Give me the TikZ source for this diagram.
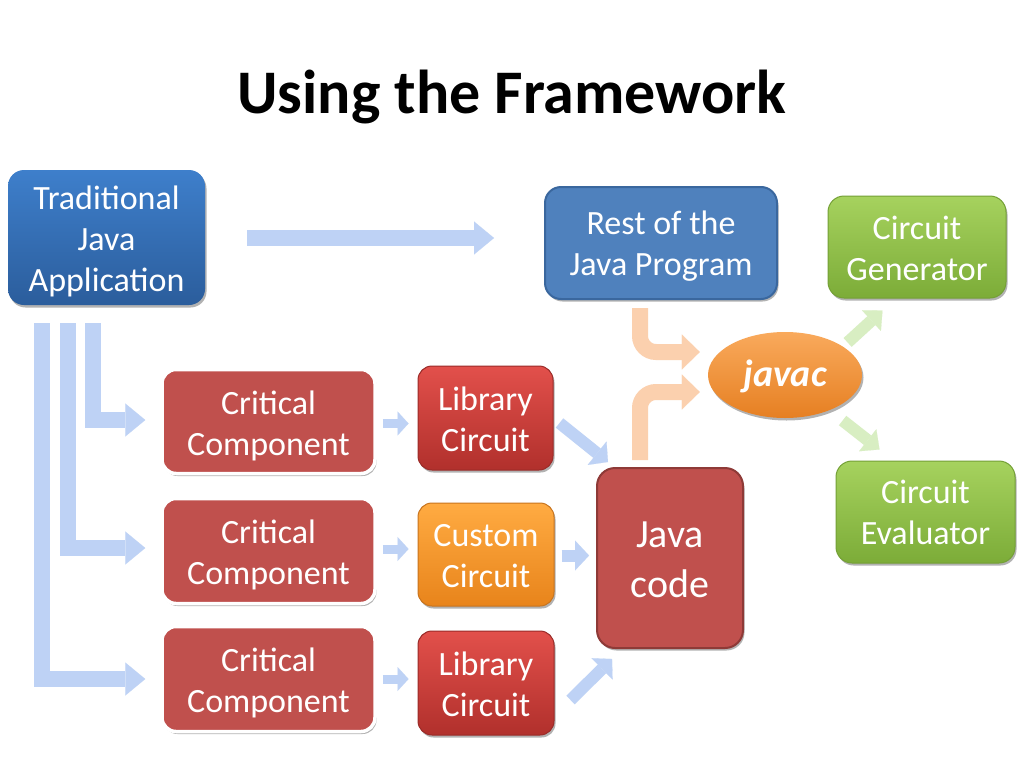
\documentclass[tikz,border=0pt]{standalone}
\usepackage{fontspec}
\setmainfont{Carlito}
\usetikzlibrary{arrows.meta,calc,shadows,shapes.geometric}
\definecolor{tradtop}{HTML}{3E7FCB}
\definecolor{tradbot}{HTML}{2B5D9C}
\definecolor{restfill}{HTML}{4F81BD}
\definecolor{restline}{HTML}{3A679E}
\definecolor{greentop}{HTML}{A6D25E}
\definecolor{greenbot}{HTML}{7CAC38}
\definecolor{greenline}{HTML}{74A036}
\definecolor{javactop}{HTML}{F9AA5C}
\definecolor{javacbot}{HTML}{E67F22}
\definecolor{critfill}{HTML}{C0504D}
\definecolor{libtop}{HTML}{E2504B}
\definecolor{libbot}{HTML}{B1302C}
\definecolor{libline}{HTML}{9A2B28}
\definecolor{custtop}{HTML}{FFAB42}
\definecolor{custbot}{HTML}{E8841B}
\definecolor{custline}{HTML}{C8741E}
\definecolor{codeline}{HTML}{8E3A37}
\definecolor{arrblue}{HTML}{BED2F5}
\definecolor{arrorange}{HTML}{FBD0AE}
\definecolor{arrgreen}{HTML}{D8EEC2}
\newcommand{\lowtext}[2][4pt]{\raisebox{-#1}[\height][\depth]{\begin{tabular}{@{}c@{}}#2\end{tabular}}}
\tikzset{
  box/.style={rounded corners=16pt, align=center, text=white, inner sep=0pt,
    font=\fontsize{34}{41}\selectfont,
    drop shadow={shadow xshift=1.5pt, shadow yshift=-2.5pt, opacity=0.3, fill=black}},
  tradbox/.style={box, top color=tradtop, bottom color=tradbot, draw=none},
  restbox/.style={box, fill=restfill, draw=restline, line width=2pt},
  greenbox/.style={box, top color=greentop, bottom color=greenbot, draw=greenline, line width=1pt},
  critbox/.style={box, fill=critfill, draw=white, line width=3.5pt, rounded corners=14pt},
  libbox/.style={box, top color=libtop, bottom color=libbot, draw=libline, line width=1pt, rounded corners=14pt},
  custbox/.style={box, top color=custtop, bottom color=custbot, draw=custline, line width=1pt, rounded corners=14pt},
  codebox/.style={box, fill=critfill, draw=codeline, line width=2pt, rounded corners=18pt,
    font=\fontsize{40}{50}\selectfont},
  javacnode/.style={ellipse, inner sep=0pt, top color=javactop, bottom color=javacbot, draw=none,
    text=white, font=\fontsize{38}{46}\selectfont\bfseries\itshape,
    drop shadow={shadow xshift=1.5pt, shadow yshift=-2.5pt, opacity=0.3, fill=black}},
  titlenode/.style={font=\fontsize{62}{70}\selectfont\bfseries, text=black, inner sep=0pt},
  barrow/.style={draw=arrblue, line width=16pt, line join=miter,
    -{Triangle[length=20pt, width=33pt, line width=0.1pt]}},
  sbarrow/.style={draw=arrblue, line width=9pt,
    -{Triangle[length=11pt, width=24pt, line width=0.1pt]}},
  mbarrow/.style={draw=arrblue, line width=12pt,
    -{Triangle[length=14pt, width=30pt, line width=0.1pt]}},
  oarrow/.style={draw=arrorange, line width=16pt, rounded corners=16pt,
    -{Triangle[length=18pt, width=35pt, line width=0.1pt]}},
  garrow/.style={draw=arrgreen, line width=12pt,
    -{Triangle[length=15pt, width=28pt, line width=0.1pt]}}
}
\begin{document}
\begin{tikzpicture}[x=1pt, y=-1pt]
\useasboundingbox[fill=white] (0,0) rectangle (1024,768);

\node[titlenode] (title) at (512,97) {Using the Framework};

% nodes
\node[tradbox, minimum width=197pt, minimum height=135pt] (trad) at (106.5,237.5) {\lowtext[5pt]{Traditional\\Java\\Application}};
\node[restbox, minimum width=232pt, minimum height=112pt] (rest) at (661,243) {\lowtext[4pt]{Rest of the\\Java Program}};
\node[greenbox, minimum width=178pt, minimum height=102pt] (gen) at (917,247) {\lowtext[5pt]{Circuit\\Generator}};
\node[greenbox, minimum width=179pt, minimum height=102pt] (eval) at (925.5,512) {\lowtext[4pt]{Circuit\\Evaluator}};
\node[javacnode, minimum width=154pt, minimum height=86pt] (javac) at (785,375) {\lowtext[2pt]{javac}};

\node[critbox, minimum width=213pt, minimum height=104pt] (crit1) at (268.5,421.5) {\lowtext[5pt]{Critical\\Component}};
\node[critbox, minimum width=213pt, minimum height=105pt] (crit2) at (268.5,551) {\lowtext[5pt]{Critical\\Component}};
\node[critbox, minimum width=213pt, minimum height=105pt] (crit3) at (268.5,679) {\lowtext[5pt]{Critical\\Component}};

\node[libbox, minimum width=135pt, minimum height=104pt] (lib1) at (485.5,418) {\lowtext[5pt]{Library\\Circuit}};
\node[custbox, minimum width=136pt, minimum height=103pt] (cust) at (486,554.5) {\lowtext[4pt]{Custom\\Circuit}};
\node[libbox, minimum width=136pt, minimum height=104pt] (lib2) at (486,683) {\lowtext[5pt]{Library\\Circuit}};

\node[codebox, minimum width=146pt, minimum height=180pt] (jcode) at (670,558) {\lowtext[4pt]{Java\\code}};

% arrows
\draw[barrow] ($(trad.east)+(42,0.5)$) -- ($(trad.east -| rest.west)+(-50,0.5)$);

\draw[barrow] ($(trad.south west)+(85.5,18)$) |- ($(crit1.west)+(-15,-1.5)$);
\draw[barrow] ($(trad.south west)+(60,18)$) |- ($(crit2.west)+(-15,-3)$);
\draw[barrow] ($(trad.south west)+(34,18)$) |- ($(crit3.west)+(-15,0)$);

\draw[sbarrow] ($(crit1.east)+(6,2)$) -- ($(crit1.east -| lib1.west)+(-9,2)$);
\draw[sbarrow] ($(crit2.east)+(6,-2)$) -- ($(crit2.east -| cust.west)+(-9,-2)$);
\draw[sbarrow] ($(crit3.east)+(6,0)$) -- ($(crit3.east -| lib2.west)+(-9,0)$);

\draw[mbarrow] ($(lib1.east)+(6,5)$) -- ($(jcode.north west)+(12,-5)$);
\draw[mbarrow] ($(cust.east)+(7,1)$) -- ($(cust.east -| jcode.west)+(-7,1)$);
\draw[mbarrow] ($(lib2.east)+(16,17)$) -- ($(jcode.south west)+(16,10)$);

\draw[oarrow] ($(rest.south)+(-21,8)$) |- ($(javac.west)+(-8,-23)$);
\draw[oarrow] ($(jcode.north)+(-30,-7)$) |- ($(javac.west)+(-8,17)$);

\draw[garrow] ($(javac.north east)+(8,-2)$) -- ($(gen.south west)+(55,12)$);
\draw[garrow] ($(javac.south east)+(3,15)$) -- ($(eval.north west)+(44,-11)$);
\end{tikzpicture}
\end{document}
